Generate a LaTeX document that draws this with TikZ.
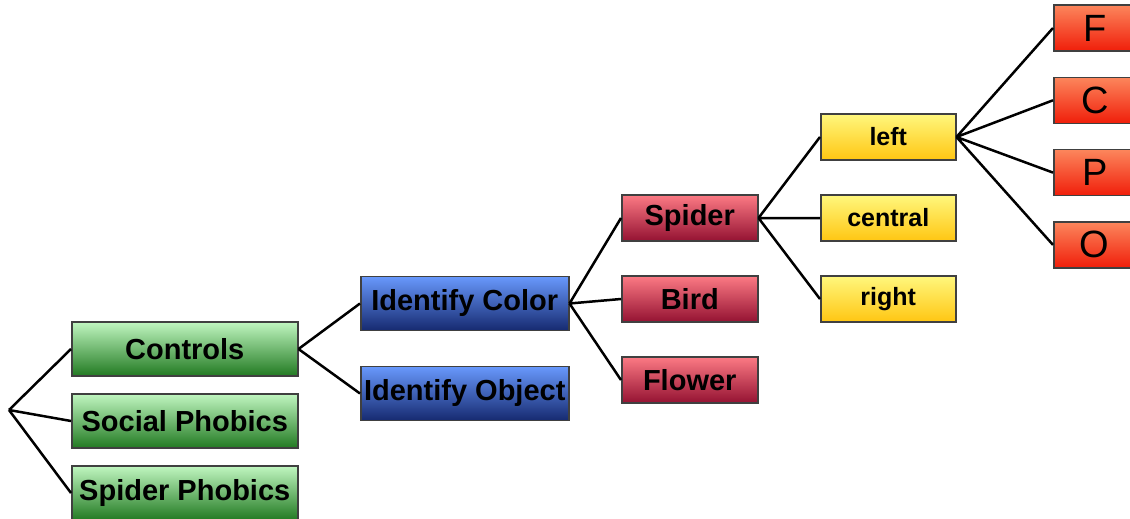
\documentclass[tikz,border=0pt]{standalone}
\usepackage{fontspec}
\setmainfont{Liberation Sans}
\usetikzlibrary{positioning}

\definecolor{grntop}{RGB}{192,246,192}
\definecolor{grnbot}{RGB}{34,122,34}
\definecolor{blutop}{RGB}{104,152,252}
\definecolor{blubot}{RGB}{22,42,112}
\definecolor{redtop}{RGB}{252,122,132}
\definecolor{redbot}{RGB}{148,18,50}
\definecolor{yeltop}{RGB}{255,247,125}
\definecolor{yelbot}{RGB}{255,198,18}
\definecolor{orgtop}{RGB}{252,134,92}
\definecolor{orgbot}{RGB}{240,30,10}

\tikzset{
  box/.style={draw=black!75, line width=0.75pt, inner sep=0pt, anchor=west,
    font=\bfseries\fontsize{14.5}{16}\selectfont},
  grnbox/.style={box, top color=grntop, bottom color=grnbot,
    minimum width=113pt, minimum height=27pt},
  blubox/.style={box, top color=blutop, bottom color=blubot,
    minimum width=104pt, minimum height=27pt},
  redbox/.style={box, top color=redtop, bottom color=redbot,
    minimum width=68pt, minimum height=23pt},
  yelbox/.style={box, top color=yeltop, bottom color=yelbot,
    minimum width=67.5pt, minimum height=23pt,
    font=\bfseries\fontsize{12.5}{14}\selectfont},
  orgbox/.style={box, top color=orgtop, bottom color=orgbot,
    minimum width=41pt, minimum height=23pt,
    font=\fontsize{19}{20}\selectfont},
  link/.style={line width=1.25pt, black}
}

\begin{document}
\begin{tikzpicture}[x=0.5pt,y=-0.5pt]
  \useasboundingbox (0,0) rectangle (1130,519);

  \coordinate (root) at (9,410);

  % groups
  \node [grnbox] (ctrl) at (71,349) {Controls};
  \node [grnbox, below=8.25pt of ctrl] (social) {Social Phobics};
  \node [grnbox, below=8.25pt of social] (spiderph) {Spider Phobics};

  % tasks
  \node [blubox] (color) at (360,303.5) {Identify Color};
  \node [blubox, below=17.25pt of color] (object) {Identify Object};

  % stimuli
  \node [redbox] (spider) at (621,218) {Spider};
  \node [redbox, below=16.75pt of spider] (bird) {Bird};
  \node [redbox, below=16.75pt of bird] (flower) {Flower};

  % positions
  \node [yelbox] (left) at (820,137) {left};
  \node [yelbox, below=16.75pt of left] (central) {central};
  \node [yelbox, below=16.75pt of central] (right) {right};

  % sites
  \node [orgbox] (f) at (1053,28) {F};
  \node [orgbox, below=12.4pt of f] (c) {C};
  \node [orgbox, below=12.4pt of c] (p) {P};
  \node [orgbox, below=12.4pt of p] (o) {O};

  \draw [link] (root) -- (ctrl.west)
               (root) -- (social.west)
               (root) -- (spiderph.west);
  \draw [link] (ctrl.east) -- (color.west)
               (ctrl.east) -- (object.west);
  \draw [link] (color.east) -- (spider.west)
               (color.east) -- (bird.west)
               (color.east) -- (flower.west);
  \draw [link] (spider.east) -- (left.west)
               (spider.east) -- (central.west)
               (spider.east) -- (right.west);
  \draw [link] (left.east) -- (f.west)
               (left.east) -- (c.west)
               (left.east) -- (p.west)
               (left.east) -- (o.west);
\end{tikzpicture}
\end{document}
